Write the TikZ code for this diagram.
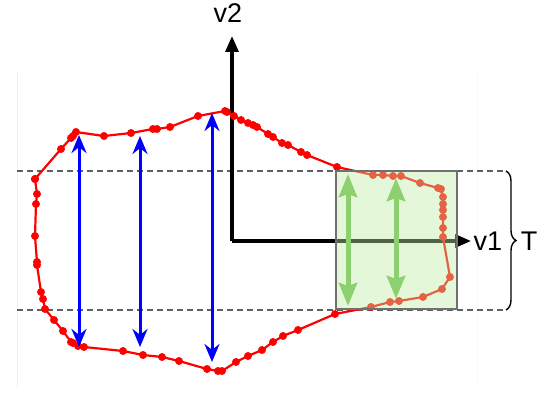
\documentclass[tikz,border=0pt]{standalone}
\usepackage{fontspec}
\setmainfont{Liberation Sans}
\usetikzlibrary{arrows.meta, decorations.pathreplacing}
\definecolor{curvered}{RGB}{255,0,0}
\definecolor{arrowblue}{RGB}{0,0,255}
\definecolor{boxgreen}{RGB}{190,238,164}
\definecolor{arrowgreen}{RGB}{140,208,112}
\definecolor{boxedge}{RGB}{112,112,112}
\definecolor{guidegray}{RGB}{96,96,96}
\tikzset{
  % Coordinate axes
  axisarrow/.style={-{Triangle[length=16pt,width=13pt]}, line width=3.2pt, black},
  axislabel/.style={font=\fontsize{27}{31}\selectfont, inner sep=0pt},
  % Boundary curve with sample points
  boundary/.style={curvered, line width=2.2pt, line join=round},
  % Spans across the region
  span/.style={{Stealth[length=18pt,width=15pt]}-{Stealth[length=18pt,width=15pt]}, line width=3pt, arrowblue},
  tubespan/.style={{Stealth[length=23pt,width=18pt,inset=3pt]}-{Stealth[length=23pt,width=18pt,inset=3pt]}, line width=5pt, arrowgreen},
  % Tube window
  window/.style={draw=boxedge, line width=1.6pt, fill=boxgreen, fill opacity=0.42},
  guide/.style={guidegray, line width=1.3pt, dash pattern=on 6pt off 4pt},
  bracket/.style={decorate, decoration={brace, amplitude=10pt}, line width=1.4pt}
}
\begin{document}
\begin{tikzpicture}[x=1pt, y=-1pt]
  \useasboundingbox (0,0) rectangle (550,393);

  % Faint frame lines
  \draw[gray!12, line width=1pt] (17,72) -- (17,388);
  \draw[gray!5, line width=1pt] (477,72) -- (477,388);

  % Band limits
  \coordinate (tl) at (17,171);
  \coordinate (tr) at (506,171);
  \coordinate (bl) at (17,310);
  \coordinate (br) at (506,310);
  \draw[guide] (tl) -- (tr);
  \draw[guide] (bl) -- (br);

  % Axes
  \coordinate (o) at (232,241);
  \coordinate (v2tip) at (232,36);
  \coordinate (v1tip) at (471,241);
  \draw[axisarrow] (o) -- (v2tip);
  \draw[axisarrow] (o) -- (v1tip);
  \node[axislabel] (v2) at (228,13) {v2};
  \node[axislabel] (v1) at (488,241) {v1};

  % Boundary
  \draw[boundary] plot[mark=*, mark size=2.8pt, mark options={fill=curvered, draw=curvered}] coordinates {
    (35,179) (37,194) (36,204) (35,236) (37,262) (37,265) (41,292) (43,299)
    (45,309) (54,320) (63,331) (71,342) (73,343) (78,346) (84,347) (123,351)
    (143,355) (162,357) (179,361) (207,369) (218,371) (222,371) (236,362)
    (248,356) (262,350) (273,342) (283,336) (298,330) (335,314) (371,307)
    (390,302) (399,301) (423,297) (442,289) (450,277) (443,237) (443,228)
    (443,217) (443,210) (443,204) (443,197) (441,189) (438,188) (420,183)
    (401,176) (393,176) (383,175) (373,175) (337,167) (307,155) (301,152)
    (288,145) (282,143) (273,137) (268,134) (257,127) (253,125) (248,123)
    (241,120) (234,116) (227,112) (225,111) (198,116) (170,127) (157,129)
    (153,129) (131,133) (104,136) (76,132) (73,136) (71,138) (61,149) (35,179)
  };

  % Spans
  \coordinate (s1t) at (79,135);   \coordinate (s1b) at (79,347);
  \coordinate (s2t) at (140,136);  \coordinate (s2b) at (140,347);
  \coordinate (s3t) at (212,113);  \coordinate (s3b) at (212,362);
  \draw[span] (s1t) -- (s1b);
  \draw[span] (s2t) -- (s2b);
  \draw[span] (s3t) -- (s3b);

  % Tube window
  \node[window, minimum width=121pt, minimum height=138pt, inner sep=0pt] (win) at (396.5,240) {};
  \coordinate (g1t) at (348,174);  \coordinate (g1b) at (348,306);
  \coordinate (g2t) at (396,178);  \coordinate (g2b) at (396,299);
  \draw[tubespan] (g1t) -- (g1b);
  \draw[tubespan] (g2t) -- (g2b);

  % Band width
  \draw[bracket] (tr) -- (br);
  \node[axislabel] (T) at (529,241) {T};
\end{tikzpicture}
\end{document}
